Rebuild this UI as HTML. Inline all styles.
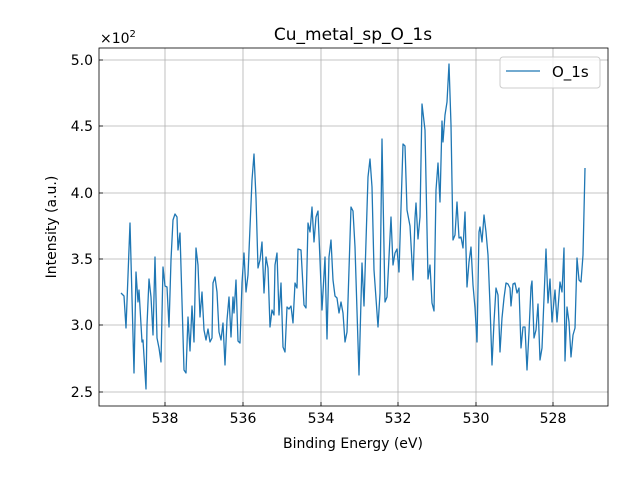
<!DOCTYPE html>
<html><head><meta charset="utf-8"><style>body{margin:0;background:#fff}svg{display:block}</style></head><body>
<svg width="640" height="480" xmlns="http://www.w3.org/2000/svg" font-family="DejaVu Sans, Liberation Sans, sans-serif">
<rect width="640" height="480" fill="#fff"/>
<g stroke="#b0b0b0" stroke-width="0.8">
<line x1="165" y1="48" x2="165" y2="406"/><line x1="243" y1="48" x2="243" y2="406"/><line x1="321" y1="48" x2="321" y2="406"/><line x1="398" y1="48" x2="398" y2="406"/><line x1="476" y1="48" x2="476" y2="406"/><line x1="553" y1="48" x2="553" y2="406"/>
<line x1="99" y1="60" x2="608" y2="60"/><line x1="99" y1="126" x2="608" y2="126"/><line x1="99" y1="193" x2="608" y2="193"/><line x1="99" y1="259" x2="608" y2="259"/><line x1="99" y1="325" x2="608" y2="325"/><line x1="99" y1="392" x2="608" y2="392"/>
</g>
<polyline fill="none" stroke="#1f77b4" stroke-width="1.3" stroke-linejoin="round" points="121,293 124,296 126,328 130,223 134,373 136,272 138,302 139,290 142,342 143,340 146,389 147,325 149,279 151,297 153,335 155,257 157,338 159,348 161,362 163,267 165,286 167,287 169,327 171,260 173,220 175,214 177,217 178,250 180,233 184,370 186,373 188,317 190,351 192,306 194,342 196,248 198,265 200,317 202,292 204,330 206,340 208,329 210,342 212,338 213,283 215,277 217,292 219,332 221,340 223,323 225,365 227,320 229,297 231,337 233,297 234,313 236,280 238,341 240,343 242,283 244,253 246,292 248,275 252,180 254,154 256,198 258,268 260,260 262,242 264,293 266,257 268,268 270,327 272,310 274,315 275,265 277,253 279,315 281,283 283,347 285,352 287,307 289,309 291,306 293,323 295,283 297,288 298,249 301,250 304,305 306,308 308,223 310,232 312,207 314,242 316,217 318,211 322,310 325,257 327,339 329,257 331,240 333,280 335,296 337,298 339,313 341,302 343,313 345,342 347,332 351,207 353,211 355,247 359,375 362,263 364,306 368,177 370,159 372,187 374,270 378,327 380,293 382,139 385,302 387,297 391,217 393,265 395,253 397,249 399,272 403,144 405,146 407,210 410,226 413,280 415,218 416,203 418,239 420,217 422,104 425,130 428,279 430,265 432,303 434,311 436,190 438,163 440,202 442,121 443,142 445,115 447,102 449,64 451,125 453,240 455,235 457,202 459,238 461,237 463,248 465,212 467,287 469,262 471,247 473,285 475,308 477,342 479,232 480,227 482,242 484,215 486,232 488,255 490,305 492,365 494,322 496,288 498,295 500,352 502,318 504,298 506,283 508,284 510,288 511,306 513,284 515,283 517,293 519,288 521,348 523,327 525,327 527,370 529,332 531,287 532,281 534,338 536,330 538,304 540,360 542,348 546,249 548,303 550,279 552,322 555,290 557,322 560,282 562,292 564,248 565,361 567,307 569,322 571,357 573,335 575,328 577,258 579,280 581,282 583,255 585,168"/>
<rect x="99" y="48" width="509" height="358" fill="none" stroke="#000" stroke-width="0.8"/>
<g stroke="#000" stroke-width="0.8">
<line x1="165" y1="406" x2="165" y2="402"/><line x1="243" y1="406" x2="243" y2="402"/><line x1="321" y1="406" x2="321" y2="402"/><line x1="398" y1="406" x2="398" y2="402"/><line x1="476" y1="406" x2="476" y2="402"/><line x1="553" y1="406" x2="553" y2="402"/>
<line x1="99" y1="60" x2="103" y2="60"/><line x1="99" y1="126" x2="103" y2="126"/><line x1="99" y1="193" x2="103" y2="193"/><line x1="99" y1="259" x2="103" y2="259"/><line x1="99" y1="325" x2="103" y2="325"/><line x1="99" y1="392" x2="103" y2="392"/>
</g>
<g font-size="14" fill="#000" text-anchor="middle">
<text x="165" y="423">538</text><text x="243" y="423">536</text><text x="321" y="423">534</text><text x="398" y="423">532</text><text x="476" y="423">530</text><text x="553" y="423">528</text>
</g>
<g font-size="14" fill="#000" text-anchor="end">
<text x="93" y="65">5.0</text><text x="93" y="131">4.5</text><text x="93" y="198">4.0</text><text x="93" y="264">3.5</text><text x="93" y="330">3.0</text><text x="93" y="397">2.5</text>
</g>
<text x="100" y="43" font-size="14">×10<tspan font-size="10" dy="-6">2</tspan></text>
<text x="353" y="40" font-size="17" text-anchor="middle">Cu_metal_sp_O_1s</text>
<text x="353" y="448" font-size="14" text-anchor="middle">Binding Energy (eV)</text>
<text transform="translate(56,227) rotate(-90)" font-size="14" text-anchor="middle">Intensity (a.u.)</text>
<rect x="500" y="57" width="100" height="31" rx="3" fill="#fff" fill-opacity="0.8" stroke="#ccc"/>
<line x1="506" y1="71" x2="540" y2="71" stroke="#1f77b4" stroke-width="1.3"/>
<text x="552" y="77" font-size="15">O_1s</text>
</svg>
</body></html>
